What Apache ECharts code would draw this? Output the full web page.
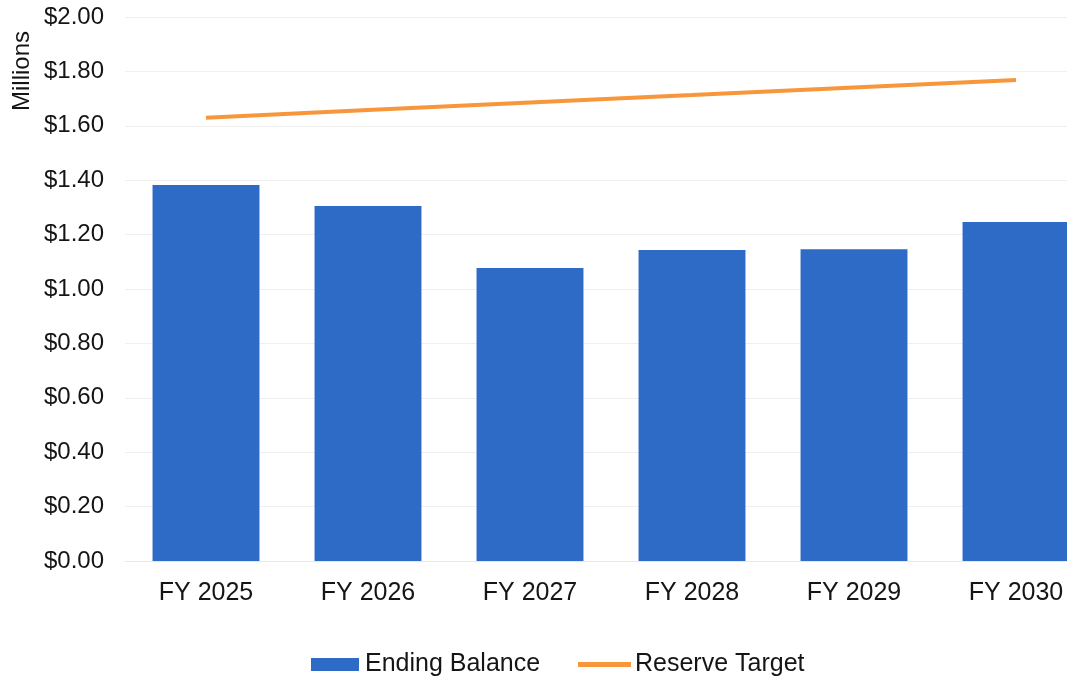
<!DOCTYPE html>
<html>
<head>
<meta charset="utf-8">
<script src="https://cdn.jsdelivr.net/npm/echarts@6/dist/echarts.min.js"></script>
<style>html,body{margin:0;padding:0;background:#fff;overflow:hidden;width:1067px;height:680px;}#main{width:1100px;height:680px;}</style>
</head>
<body>
<div id="main"></div>
<script>
const categories = ['FY 2025', 'FY 2026', 'FY 2027', 'FY 2028', 'FY 2029', 'FY 2030'];
const endingBalance = [1.382, 1.305, 1.077, 1.143, 1.146, 1.246];
const reserveTarget = [1.630, 1.658, 1.686, 1.713, 1.741, 1.768];
const yTicks = { min: 0, max: 2, interval: 0.2 };
const FONT = '"Liberation Sans", Arial, sans-serif';
const TXT = '#151515';

const chart = echarts.init(document.getElementById('main'), null, { renderer: 'canvas' });
chart.setOption({
  backgroundColor: '#ffffff',
  animation: false,
  grid: { left: 125, top: 17, width: 972, height: 544, containLabel: false },
  xAxis: {
    type: 'category',
    data: categories,
    axisLine: { show: true, lineStyle: { color: '#e8e8e8', width: 1 } },
    axisTick: { show: false },
    axisLabel: { color: TXT, fontSize: 25, fontFamily: FONT, margin: 20 }
  },
  yAxis: {
    type: 'value',
    min: yTicks.min, max: yTicks.max, interval: yTicks.interval,
    axisLine: { show: false },
    axisTick: { show: false },
    splitLine: { lineStyle: { color: '#efefef', width: 1 } },
    axisLabel: {
      color: TXT, fontSize: 24, fontFamily: FONT, margin: 21,
      formatter: v => '$' + v.toFixed(2)
    }
  },
  legend: [
    {
      left: 311, top: 652, padding: 0,
      itemWidth: 48, itemHeight: 13, itemGap: 17,
      textStyle: { color: TXT, fontSize: 25, fontFamily: FONT, padding: [0, 0, 0, 1] },
      data: [{ name: 'Ending Balance', icon: 'rect' }]
    },
    {
      left: 578, top: 652, padding: 0,
      itemWidth: 53, itemHeight: 5, itemGap: 17,
      textStyle: { color: TXT, fontSize: 25, fontFamily: FONT, padding: [0, 0, 0, -1] },
      data: [{ name: 'Reserve Target', icon: 'rect' }]
    }
  ],
  graphic: [{
    type: 'text', x: 22, y: 71, rotation: Math.PI / 2,
    style: { text: 'Millions', fontSize: 24, fontFamily: FONT, fill: TXT, align: 'center', verticalAlign: 'middle' }
  }],
  series: [
    {
      name: 'Ending Balance', type: 'bar', data: endingBalance,
      barWidth: '66%',
      itemStyle: { color: '#2e6bc6' }
    },
    {
      name: 'Reserve Target', type: 'line', data: reserveTarget,
      symbol: 'none', showSymbol: false,
      lineStyle: { color: '#f7963a', width: 4 },
      itemStyle: { color: '#f7963a' }
    }
  ]
});
</script>
</body>
</html>
